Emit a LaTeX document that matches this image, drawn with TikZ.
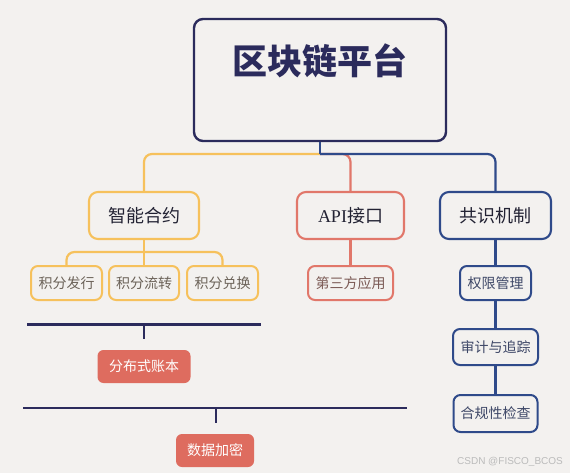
\documentclass[tikz,border=0pt]{standalone}
\usepackage{fontspec}
\setmainfont{Noto Sans CJK SC}
\newfontfamily\apifont{Liberation Serif}
\newfontfamily\markfont{Liberation Sans}
\usepackage{xcolor}
\usepackage{tikz}
\usetikzlibrary{positioning}
\definecolor{bg}{HTML}{F3F1EF}
\definecolor{navy}{HTML}{2B2B5C}
\definecolor{ink}{HTML}{222233}
\definecolor{gold}{HTML}{F6C15C}
\definecolor{coral}{HTML}{E1776A}
\definecolor{coralfill}{HTML}{DE6C5F}
\definecolor{royal}{HTML}{2F4A8A}
\definecolor{goldtext}{HTML}{6B6258}
\definecolor{coraltext}{HTML}{7B5A55}
\definecolor{royaltext}{HTML}{3E4767}
\definecolor{muted}{HTML}{BBBBBB}
\tikzset{
  rootbox/.style={draw=navy, line width=2.4pt, rounded corners=9pt, minimum width=252pt,
    text height=30pt, text depth=40pt, inner ysep=26pt, text=navy,
    font=\fontsize{35}{40}\selectfont\bfseries},
  topic/.style={draw=#1, line width=2.1pt, rounded corners=9pt, minimum height=47pt,
    text=ink, font=\fontsize{18}{22}\selectfont},
  leaf/.style={draw=#1, line width=2pt, rounded corners=7pt, minimum height=34pt,
    font=\fontsize{14}{17}\selectfont},
  tag/.style={fill=coralfill, text=white, rounded corners=6pt, minimum height=33pt,
    font=\fontsize{14}{17}\selectfont},
  link/.style={draw=#1, line width=2.2pt, rounded corners=8pt},
  rule/.style={draw=navy, line width=2.4pt},
  wm/.style={text=muted, font=\markfont\fontsize{10}{12}\selectfont},
}
\begin{document}
\begin{tikzpicture}[x=1pt,y=-1pt]
\fill[bg] (0,0) rectangle (570,473);

\node[rootbox] (root) at (320,80) {区块链平台};

\node[topic=gold, minimum width=110pt] (smart) at (144,215.5) {智能合约};
\node[topic=coral, minimum width=107pt] (api) at (350.5,215.5) {{\apifont API}接口};
\node[topic=royal, minimum width=111pt] (cons) at (495.5,215.5) {共识机制};

\node[leaf=gold, text=goldtext, minimum width=71pt] (issue) at (66.5,283) {积分发行};
\node[leaf=gold, text=goldtext, minimum width=70pt] (flow) at (144,283) {积分流转};
\node[leaf=gold, text=goldtext, minimum width=71pt] (redeem) at (222.5,283) {积分兑换};
\node[leaf=coral, text=coraltext, minimum width=85pt] (third) at (350.5,283) {第三方应用};
\node[leaf=royal, text=royaltext, minimum width=71pt] (perm) at (495.5,283) {权限管理};
\node[leaf=royal, text=royaltext, minimum width=85pt, minimum height=36pt] (audit) at (495.5,347) {审计与追踪};
\node[leaf=royal, text=royaltext, minimum width=84pt, minimum height=37pt] (check) at (495.5,413.5) {合规性检查};

\node[tag, minimum width=93pt] (ledger) at (144,366.5) {分布式账本};
\node[tag, minimum width=78pt] (crypto) at (215,450.5) {数据加密};

\coordinate (hub) at (320,154);
\coordinate (fork) at (144,252);
\draw[link=gold] (hub) -| (smart.north);
\draw[link=coral] (hub) -| (api.north);
\draw[link=royal] (hub) -| (cons.north);
\draw[link=royal, rounded corners=0pt] (root.south) -- (hub);

\draw[link=gold] (smart.south) -- (fork);
\draw[link=gold] (fork) -| (issue.north);
\draw[link=gold] (fork) -| (redeem.north);
\draw[link=gold] (fork) -- (flow.north);
\draw[link=coral] (api.south) -- (third.north);
\draw[link=royal] (cons.south) -- (perm.north);
\draw[link=royal] (perm.south) -- (audit.north);
\draw[link=royal] (audit.south) -- (check.north);

% the two bars above the shared parts
\coordinate (barAw) at (27,324.5);
\coordinate (barAe) at (261,324.5);
\coordinate (tickAt) at (144,324.5);
\coordinate (tickAb) at (144,339);
\coordinate (barBw) at (23,408);
\coordinate (barBe) at (407,408);
\coordinate (tickBt) at (216,408);
\coordinate (tickBb) at (216,423);
\draw[rule] (barAw) -- (barAe);
\draw[rule] (tickAt) -- (tickAb);
\draw[rule] (barBw) -- (barBe);
\draw[rule] (tickBt) -- (tickBb);

\node[wm] (mark) at (510,462) {CSDN @FISCO\_BCOS};
\end{tikzpicture}
\end{document}
